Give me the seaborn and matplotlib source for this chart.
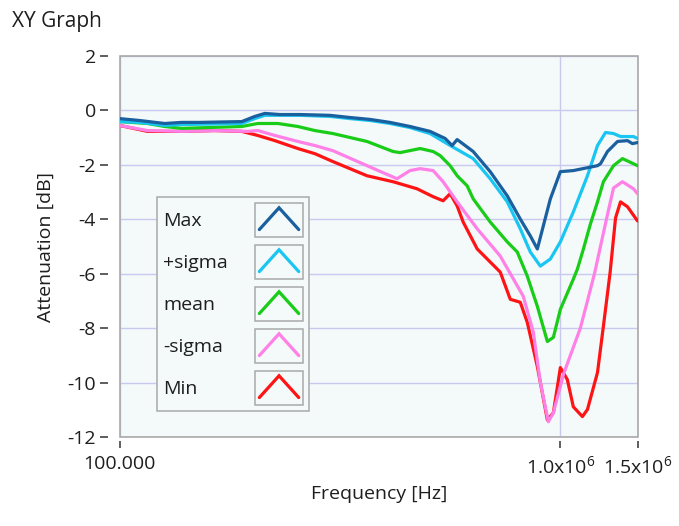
import matplotlib
matplotlib.use("Agg")
import matplotlib.pyplot as plt
import seaborn as sns
import pandas as pd
from matplotlib.patches import Rectangle
from matplotlib.lines import Line2D
from matplotlib.legend_handler import HandlerBase
from matplotlib.ticker import FixedLocator, FixedFormatter, NullLocator

# ---------------- data ----------------
series_names = ["Max", "+sigma", "mean", "-sigma", "Min"]
series_colors = ["#1a5f9e", "#19c6f2", "#18cc18", "#ff80e6", "#fe1414"]

max_freq = [1.000e5, 1.110e5, 1.266e5, 1.383e5, 1.520e5, 1.894e5, 2.027e5, 2.136e5, 2.310e5, 2.565e5,
            3.001e5, 3.332e5, 3.700e5, 4.108e5, 4.561e5, 5.064e5, 5.478e5, 5.682e5, 5.833e5, 6.343e5,
            6.932e5, 7.578e5, 8.111e5, 8.547e5, 8.867e5, 9.149e5, 9.490e5, 1.000e6, 1.070e6, 1.214e6,
            1.233e6, 1.279e6, 1.348e6, 1.420e6, 1.457e6, 1.496e6]
max_db = [-0.30, -0.37, -0.48, -0.44, -0.44, -0.41, -0.22, -0.11, -0.15, -0.15,
          -0.18, -0.26, -0.33, -0.44, -0.59, -0.77, -1.03, -1.29, -1.07, -1.51,
          -2.25, -3.14, -3.99, -4.61, -5.09, -4.24, -3.25, -2.25, -2.21, -2.03,
          -1.96, -1.51, -1.14, -1.11, -1.22, -1.18]

psig_freq = [1.000e5, 1.110e5, 1.266e5, 1.383e5, 1.894e5, 2.027e5, 2.136e5, 2.565e5, 3.001e5, 3.332e5,
             3.700e5, 4.108e5, 4.561e5, 5.064e5, 5.682e5, 6.343e5, 6.932e5, 7.578e5, 8.111e5, 8.547e5,
             9.006e5, 9.490e5, 1.000e6, 1.070e6, 1.152e6, 1.214e6, 1.266e6, 1.320e6, 1.369e6, 1.465e6,
             1.496e6]
psig_db = [-0.41, -0.44, -0.55, -0.52, -0.48, -0.30, -0.18, -0.18, -0.22, -0.30,
           -0.37, -0.48, -0.63, -0.85, -1.33, -1.77, -2.51, -3.36, -4.35, -5.20,
           -5.72, -5.46, -4.83, -3.73, -2.40, -1.29, -0.81, -0.85, -0.96, -0.96,
           -1.03]

mean_freq = [1.000e5, 1.158e5, 1.266e5, 1.383e5, 1.894e5, 2.059e5, 2.286e5, 2.538e5, 2.775e5, 3.049e5,
             3.642e5, 4.174e5, 4.329e5, 4.807e5, 5.145e5, 5.337e5, 5.623e5, 5.833e5, 6.146e5, 6.343e5,
             6.932e5, 7.578e5, 7.983e5, 8.414e5, 8.867e5, 9.343e5, 9.641e5, 1.000e6, 1.070e6, 1.093e6,
             1.128e6, 1.170e6, 1.214e6, 1.252e6, 1.320e6, 1.383e6, 1.465e6, 1.496e6]
mean_db = [-0.41, -0.48, -0.59, -0.66, -0.59, -0.48, -0.48, -0.59, -0.74, -0.85,
           -1.14, -1.51, -1.55, -1.40, -1.51, -1.66, -2.03, -2.40, -2.77, -3.25,
           -4.10, -4.83, -5.20, -6.09, -7.20, -8.49, -8.34, -7.31, -6.20, -5.83,
           -5.09, -4.17, -3.36, -2.62, -2.03, -1.77, -1.96, -2.03]

msig_freq = [1.000e5, 1.158e5, 1.383e5, 1.644e5, 1.954e5, 2.059e5, 2.251e5, 2.538e5, 2.775e5, 3.049e5,
             3.642e5, 4.261e5, 4.561e5, 4.807e5, 5.145e5, 5.421e5, 5.833e5, 6.477e5, 7.305e5, 8.239e5,
             8.683e5, 9.006e5, 9.391e5, 9.641e5, 1.016e6, 1.110e6, 1.152e6, 1.195e6, 1.233e6, 1.272e6,
             1.320e6, 1.383e6, 1.465e6, 1.496e6]
msig_db = [-0.55, -0.74, -0.77, -0.74, -0.77, -0.74, -0.92, -1.14, -1.29, -1.48,
           -2.03, -2.51, -2.21, -2.14, -2.21, -2.62, -3.36, -4.35, -5.35, -6.83,
           -8.15, -9.99, -11.44, -11.11, -9.70, -8.00, -7.00, -6.00, -5.00, -4.00,
           -2.85, -2.62, -2.88, -3.06]

min_freq = [1.000e5, 1.158e5, 1.383e5, 1.644e5, 1.894e5, 2.059e5, 2.251e5, 2.538e5, 2.775e5, 3.049e5,
            3.642e5, 4.174e5, 4.732e5, 5.145e5, 5.421e5, 5.623e5, 5.833e5, 6.019e5, 6.477e5, 7.305e5,
            7.699e5, 8.111e5, 8.414e5, 8.867e5, 9.343e5, 9.641e5, 1.000e6, 1.037e6, 1.070e6, 1.122e6,
            1.152e6, 1.214e6, 1.252e6, 1.297e6, 1.334e6, 1.369e6, 1.420e6, 1.496e6]
min_db = [-0.55, -0.77, -0.77, -0.74, -0.77, -0.92, -1.11, -1.40, -1.59, -1.88,
          -2.40, -2.62, -2.88, -3.17, -3.32, -3.06, -3.51, -4.10, -5.09, -5.94,
          -6.94, -7.05, -7.79, -9.41, -11.37, -11.11, -9.45, -9.89, -10.89, -11.25,
          -10.99, -9.63, -7.93, -5.94, -3.95, -3.36, -3.54, -4.06]

x_tick_values = [1e5, 1e6, 1.5e6]
x_tick_labels = ["100.000", "1.0x10$^{6}$", "1.5x10$^{6}$"]
y_tick_values = [2, 0, -2, -4, -6, -8, -10, -12]
y_tick_labels = ["2", "0", "-2", "-4", "-6", "-8", "-10", "-12"]

title_text = "XY Graph"
x_label = "Frequency [Hz]"
y_label = "Attenuation [dB]"

freq_lists = [max_freq, psig_freq, mean_freq, msig_freq, min_freq]
db_lists = [max_db, psig_db, mean_db, msig_db, min_db]

frames = []
for name, fr, db in zip(series_names, freq_lists, db_lists):
    frames.append(pd.DataFrame({"freq": fr, "dB": db, "series": name}))
df = pd.concat(frames, ignore_index=True)

# ---------------- style ----------------
sns.set_style("white")
plt.rcParams["font.family"] = ["Open Sans", "DejaVu Sans"]
plt.rcParams["mathtext.fontset"] = "custom"
plt.rcParams["mathtext.rm"] = "Open Sans"
plt.rcParams["mathtext.it"] = "Open Sans:italic"
plt.rcParams["mathtext.bf"] = "Open Sans:bold"
plt.rcParams["axes.unicode_minus"] = False

BG = "#f4f9fa"
FRAME = "#a9a9a9"
GRID = "#c9c9ef"
TXT = "#1e1e1e"
FS = 14
LW = 2.3

fig = plt.figure(figsize=(6.79, 5.26), dpi=100)
fig.patch.set_facecolor("white")
L, R, T, B = 119.5, 638.0, 56.0, 437.0
ax = fig.add_axes([L / 679, 1 - B / 526, (R - L) / 679, (B - T) / 526])
ax.set_facecolor(BG)
ax.set_xscale("log")

# draw later series first so Max ends on top
for i in reversed(range(len(series_names))):
    sub = df[df["series"] == series_names[i]]
    sns.lineplot(data=sub, x="freq", y="dB", color=series_colors[i], linewidth=LW,
                 sort=False, estimator=None, ax=ax, legend=False, zorder=3 + (5 - i) * 0.01)
for ln in ax.lines:
    ln.set_solid_joinstyle("round")
    ln.set_solid_capstyle("round")

ax.set_xlim(1e5, 1.5e6)
ax.set_ylim(-12, 2)
ax.xaxis.set_major_locator(FixedLocator(x_tick_values))
ax.xaxis.set_major_formatter(FixedFormatter(x_tick_labels))
ax.xaxis.set_minor_locator(NullLocator())
ax.yaxis.set_major_locator(FixedLocator(y_tick_values))
ax.yaxis.set_major_formatter(FixedFormatter(y_tick_labels))
ax.yaxis.set_minor_locator(NullLocator())

ax.grid(True, which="major", color=GRID, linewidth=1.0)
ax.set_axisbelow(True)

for s in ax.spines.values():
    s.set_visible(False)
ax.spines["left"].set_position(("outward", 8.6))
ax.spines["bottom"].set_position(("outward", 2.9))
ax.add_patch(Rectangle((0, 0), 1, 1, transform=ax.transAxes, facecolor="none",
                       edgecolor=FRAME, linewidth=1.2, zorder=2.6, clip_on=False))

ax.tick_params(axis="y", which="major", direction="out", length=5.8, width=1.1,
               color="#333333", labelcolor=TXT, labelsize=FS, pad=2.5, left=True)
ax.tick_params(axis="x", which="major", direction="out", length=5.0, width=1.1,
               color="#333333", labelcolor=TXT, labelsize=FS, pad=5.0, bottom=True)

ax.set_xlabel(x_label, fontsize=FS, color=TXT, va="top")
ax.set_ylabel(y_label, fontsize=FS, color=TXT)
ax.xaxis.set_label_coords(0.5, -0.126)
ax.yaxis.set_label_coords(-0.124, 0.5)

fig.text(12 / 679, 1 - 27 / 526, title_text, fontsize=15, color=TXT, ha="left", va="baseline")


# ---------------- legend with boxed caret swatches ----------------
class CaretHandler(HandlerBase):
    def create_artists(self, legend, orig_handle, xdescent, ydescent, width, height,
                       fontsize, trans):
        x0, y0 = -xdescent, -ydescent
        box = Rectangle((x0, y0), width, height, facecolor=BG, edgecolor=FRAME,
                        linewidth=1.1, transform=trans)
        xs = [x0 + width * 0.09, x0 + width * 0.5, x0 + width * 0.91]
        ys = [y0 + height * 0.22, y0 + height * 0.86, y0 + height * 0.22]
        caret = Line2D(xs, ys, color=orig_handle.get_color(), linewidth=orig_handle.get_linewidth(),
                       solid_joinstyle="miter", solid_capstyle="round", transform=trans)
        return [box, caret]


handles = [Line2D([], [], color=c, linewidth=LW) for c in series_colors]
leg = ax.legend(handles, series_names, handler_map={Line2D: CaretHandler()},
                loc="upper left", bbox_to_anchor=((157 - L) / (R - L), (B - 197) / (B - T)),
                borderaxespad=0.0, markerfirst=False, fontsize=FS, frameon=True,
                fancybox=False, shadow=False, framealpha=1.0, facecolor=BG, edgecolor=FRAME,
                handlelength=2.47, handleheight=2.315, labelspacing=0.41, borderpad=0.31,
                handletextpad=1.0)
leg.get_frame().set_linewidth(1.1)
for t in leg.get_texts():
    t.set_color(TXT)

fig.canvas.draw()
renderer = fig.canvas.get_renderer()
dpicor = renderer.points_to_pixels(1.0)
target_px = 92.0
try:
    column = leg._legend_handle_box.get_children()[0]
    for row in column.get_children():
        txt = row.get_children()[0]
        w = txt.get_bbox(renderer).width
        row.sep = max(target_px - w, 2.0) / dpicor
except Exception:
    pass

fig.savefig("out.png", dpi=100, facecolor="white")
